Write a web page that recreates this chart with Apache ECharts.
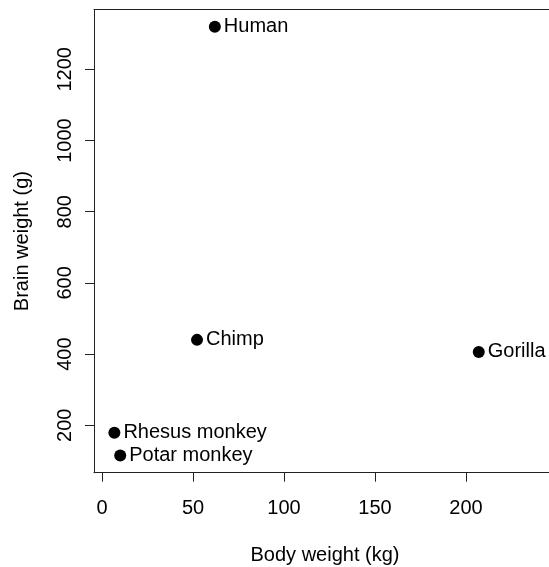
<!DOCTYPE html>
<html>
<head>
<meta charset="utf-8">
<script src="https://cdn.jsdelivr.net/npm/echarts@6/dist/echarts.min.js"></script>
<style>
  html, body { margin: 0; padding: 0; background: #fff; }
  #chart { width: 549px; height: 567px; }
</style>
</head>
<body>
<div id="chart"></div>
<script>
// Primate body and brain weights
const species = ['Potar monkey', 'Gorilla', 'Human', 'Rhesus monkey', 'Chimp'];
const bodyKg = [10.0, 207.0, 62.0, 6.8, 52.2];
const brainG = [115, 406, 1320, 179, 440];
const xTicks = [0, 50, 100, 150, 200];
const yTicks = [200, 400, 600, 800, 1000, 1200];

const FONT = 'Liberation Sans, Arial, sans-serif';
const LINE = '#222';
const W = 549;
const GRID_LEFT = 94, GRID_TOP = 9.5, GRID_W = 455, GRID_H = 463.2;
const chart = echarts.init(document.getElementById('chart'), null, { renderer: 'canvas' });

const points = species.map((name, i) => ({ name: name, value: [bodyKg[i], brainG[i]] }));
const plain = v => String(v);
// the plot region runs off the right edge; the visible part ends at the canvas edge
const X_MIN = -4.4, X_MAX = 245.6;

chart.setOption({
  animation: false,
  backgroundColor: '#ffffff',
  // keep the open right side of the frame clean at the canvas edge
  graphic: [{
    type: 'rect', z: 100, silent: true,
    shape: { x: W - 2, y: GRID_TOP + 1.5, width: 3, height: GRID_H - 3 },
    style: { fill: '#ffffff' }
  }],
  grid: {
    left: GRID_LEFT, top: GRID_TOP, width: GRID_W, height: GRID_H,
    outerBoundsMode: 'none', containLabel: false, show: false
  },
  xAxis: [{
    type: 'value', min: X_MIN, max: X_MAX, position: 'bottom',
    name: 'Body weight (kg)', nameLocation: 'middle', nameGap: 73,
    nameTextStyle: { fontFamily: FONT, fontSize: 20, color: '#000', padding: [0, 0, 0, 7] },
    axisLine: { show: true, onZero: false, lineStyle: { color: LINE, width: 1 } },
    axisTick: { show: true, length: 9, customValues: xTicks, lineStyle: { color: LINE } },
    axisLabel: { customValues: xTicks, formatter: plain, margin: 26, fontFamily: FONT, fontSize: 20, color: '#000' },
    splitLine: { show: false }
  }, {
    // top edge of the frame
    type: 'value', min: X_MIN, max: X_MAX, position: 'top',
    axisLine: { show: true, onZero: false, lineStyle: { color: LINE, width: 1 } },
    axisTick: { show: false }, axisLabel: { show: false }, splitLine: { show: false }
  }],
  yAxis: {
    type: 'value', min: 66.8, max: 1368.2,
    name: 'Brain weight (g)', nameLocation: 'middle', nameGap: 62, nameRotate: 90,
    nameTextStyle: { fontFamily: FONT, fontSize: 20, color: '#000' },
    axisLine: { show: true, onZero: false, lineStyle: { color: LINE, width: 1 } },
    axisTick: { show: true, length: 9, customValues: yTicks, lineStyle: { color: LINE } },
    axisLabel: { customValues: yTicks, formatter: plain, rotate: 90, margin: 19, fontFamily: FONT, fontSize: 20, color: '#000' },
    splitLine: { show: false }
  },
  series: [{
    type: 'scatter',
    xAxisIndex: 0,
    data: points,
    symbol: 'circle',
    symbolSize: 12,
    itemStyle: { color: '#000', opacity: 1 },
    label: {
      show: true, position: 'right', distance: 3,
      formatter: p => p.name,
      fontFamily: FONT, fontSize: 20, color: '#000'
    }
  }]
});
</script>
</body>
</html>
